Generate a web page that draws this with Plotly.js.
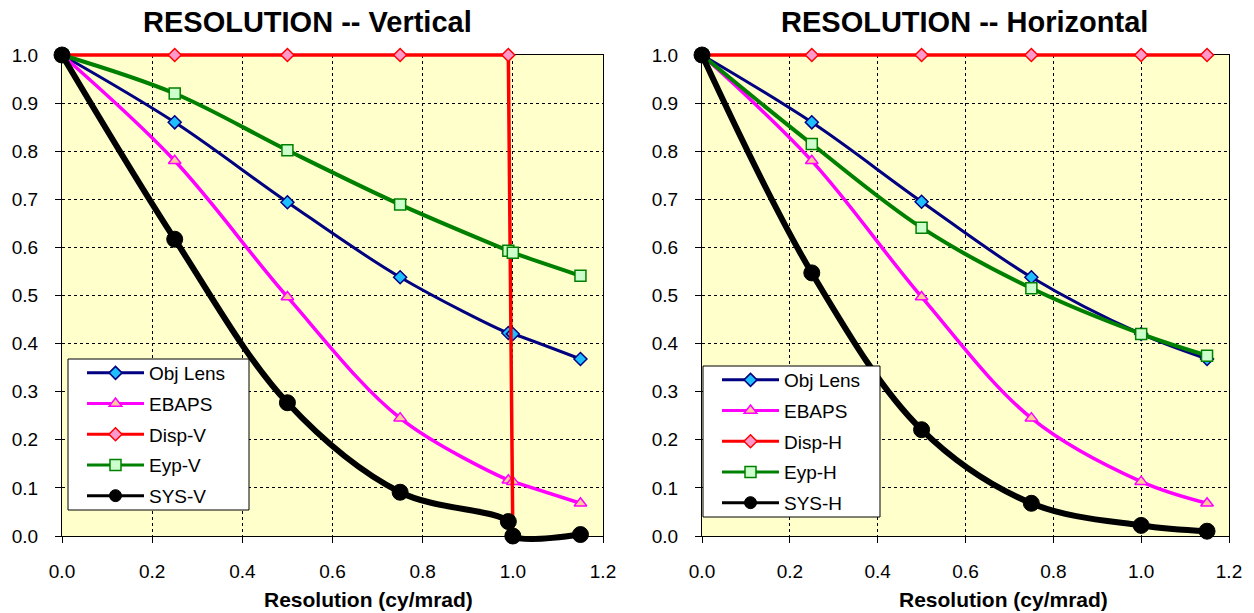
<!DOCTYPE html>
<html>
<head>
<meta charset="utf-8">
<script src="https://cdn.plot.ly/plotly-3.0.1.min.js"></script>
<style>html,body{margin:0;padding:0;background:#fff;}#chart{width:1254px;height:613px;}</style>
</head>
<body>
<div id="chart"></div>
<script>
// ---- Data ----
const xV = [0, 0.25, 0.5, 0.75, 0.99, 1.0, 1.15];
const objLensV = [1.0, 0.86, 0.694, 0.538, 0.422, 0.42, 0.368];
const ebapsV   = [1.0, 0.78, 0.497, 0.245, 0.116, 0.113, 0.068];
const dispV    = [1.0, 1.0, 1.0, 1.0, 1.0, 0.0, null];
const eypV     = [1.0, 0.92, 0.802, 0.689, 0.593, 0.589, 0.541];
const sysV     = [1.0, 0.617, 0.277, 0.091, 0.03, 0.0, 0.003];

const xH = [0, 0.25, 0.5, 0.75, 1.0, 1.15];
const objLensH = [1.0, 0.86, 0.695, 0.538, 0.42, 0.368];
const ebapsH   = [1.0, 0.78, 0.497, 0.245, 0.113, 0.068];
const dispH    = [1.0, 1.0, 1.0, 1.0, 1.0, 1.0];
const eypH     = [1.0, 0.815, 0.641, 0.515, 0.42, 0.375];
const sysH     = [1.0, 0.547, 0.221, 0.068, 0.022, 0.01];

const namesV = ['Obj Lens', 'EBAPS', 'Disp-V', 'Eyp-V', 'SYS-V'];
const namesH = ['Obj Lens', 'EBAPS', 'Disp-H', 'Eyp-H', 'SYS-H'];
const titles = ['RESOLUTION -- Vertical', 'RESOLUTION -- Horizontal'];
const xTitle = 'Resolution (cy/mrad)';
const xRange = [0, 1.2];
const yRange = [0, 1];

// ---- Styles ----
const styles = [
  {line: {color: '#000080', width: 3, shape: 'spline'}, marker: {symbol: 'diamond', size: 10, color: '#1EBFFF', line: {color: '#000080', width: 1.5}}, legLine: 3, legSize: 10},
  {line: {color: '#FF00FF', width: 3.5, shape: 'spline'}, marker: {symbol: 'triangle-up', size: 11, color: '#FFCC99', line: {color: '#FF00FF', width: 1.5}}, legLine: 3, legSize: 11},
  {line: {color: '#FF0000', width: 3.5, shape: 'linear'}, marker: {symbol: 'diamond', size: 10, color: '#FF99CC', line: {color: '#FF0000', width: 1.5}}, legLine: 3, legSize: 10},
  {line: {color: '#008000', width: 4, shape: 'spline'}, marker: {symbol: 'square', size: 11, color: '#CCFFCC', line: {color: '#008000', width: 1.5}}, legLine: 3, legSize: 11},
  {line: {color: '#000000', width: 6, shape: 'spline'}, marker: {symbol: 'circle', size: 16, color: '#000000', line: {color: '#000000', width: 1}}, legLine: 3, legSize: 12}
];

const font = 'Arial, "Liberation Sans", sans-serif';
const seriesV = [objLensV, ebapsV, dispV, eypV, sysV];
const seriesH = [objLensH, ebapsH, dispH, eypH, sysH];

const W = 1254, H = 613;
// plot frames in pixels
const frames = [
  {l: 62, r: 603, t: 55, b: 536},
  {l: 702, r: 1229, t: 55, b: 536}
];
const PAD = 9; // unclipped margin for data lines

const traces = [];
function addSet(xs, series, names, xa, ya, legxa, legya, leg) {
  series.forEach((ys, i) => {
    const s = styles[i];
    traces.push({
      type: 'scatter', mode: 'lines+markers', x: xs, y: ys, name: names[i],
      xaxis: xa, yaxis: ya, showlegend: false,
      line: s.line, marker: s.marker, cliponaxis: false
    });
  });
  // legend entries (thin legend lines, as in the original)
  series.forEach((ys, i) => {
    const s = styles[i];
    traces.push({
      type: 'scatter', mode: 'lines+markers', x: [null], y: [null], name: names[i],
      xaxis: legxa, yaxis: legya, legend: leg, legendgroup: leg + i, showlegend: true,
      line: {color: s.line.color, width: s.legLine},
      marker: Object.assign({}, s.marker, {size: s.legSize})
    });
  });
}
addSet(xV, seriesV, namesV, 'x3', 'y3', 'x', 'y', 'legend');
addSet(xH, seriesH, namesH, 'x4', 'y4', 'x2', 'y2', 'legend2');

function frameAxisX(f, anchor) {
  return {
    domain: [f.l / W, f.r / W], anchor: anchor, range: xRange, dtick: 0.2, tick0: 0, tickformat: '.1f',
    showgrid: true, gridcolor: '#000', griddash: 'dot', gridwidth: 1,
    showline: true, linecolor: '#000', linewidth: 1, mirror: true, zeroline: false,
    ticks: 'outside', ticklen: 6, tickcolor: '#000', ticklabelstandoff: 12,
    tickfont: {family: font, size: 19, color: '#000'}, fixedrange: true
  };
}
function frameAxisY(f, anchor) {
  return {
    domain: [1 - f.b / H, 1 - f.t / H], anchor: anchor, range: yRange, dtick: 0.1, tick0: 0, tickformat: '.1f',
    showgrid: true, gridcolor: '#000', griddash: 'dot', gridwidth: 1,
    showline: true, linecolor: '#000', linewidth: 1, mirror: true, zeroline: false,
    ticks: 'outside', ticklen: 6, tickcolor: '#000', ticklabelstandoff: 13,
    tickfont: {family: font, size: 19, color: '#000'}, fixedrange: true
  };
}
// hidden data axes: same scale as the frame axes, slightly larger domain so lines at the edges are not clipped
function dataAxisX(f, anchor) {
  const k = (xRange[1] - xRange[0]) / (f.r - f.l);
  return {visible: false, anchor: anchor, domain: [(f.l - PAD) / W, (f.r + PAD) / W],
    range: [xRange[0] - PAD * k, xRange[1] + PAD * k], fixedrange: true};
}
function dataAxisY(f, anchor) {
  const k = (yRange[1] - yRange[0]) / (f.b - f.t);
  return {visible: false, anchor: anchor, domain: [1 - (f.b + PAD) / H, 1 - (f.t - PAD) / H],
    range: [yRange[0] - PAD * k, yRange[1] + PAD * k], fixedrange: true};
}

const legendBase = {
  bgcolor: 'rgba(0,0,0,0)', borderwidth: 0,
  font: {family: font, size: 19, color: '#000'},
  traceorder: 'grouped', tracegroupgap: 3, itemwidth: 57,
  xanchor: 'left', yanchor: 'top'
};
const legBoxes = [
  {l: 68, r: 249, t: 359, b: 510, lx: 82, ly: 354},
  {l: 703, r: 880, t: 366, b: 517, lx: 717, ly: 361}
];

const shapes = [];
['', '2'].forEach((s) => {
  shapes.push({type: 'rect', xref: 'x' + s + ' domain', yref: 'y' + s + ' domain', x0: 0, x1: 1, y0: 0, y1: 1,
    fillcolor: '#FFFFCC', line: {width: 0}, layer: 'below'});
});
legBoxes.forEach((b) => {
  shapes.push({type: 'rect', xref: 'paper', yref: 'paper', x0: b.l / W, x1: b.r / W, y0: 1 - b.b / H, y1: 1 - b.t / H,
    fillcolor: '#FFFFFF', line: {color: '#000', width: 1}, layer: 'above'});
});

const ann = (text, px, py, size) => ({text: '<b>' + text + '</b>', x: px / W, y: 1 - py / H, xref: 'paper', yref: 'paper',
  showarrow: false, xanchor: 'center', yanchor: 'middle', font: {family: font, size: size, color: '#000'}});

const layout = {
  width: W, height: H,
  margin: {l: 0, r: 0, t: 0, b: 0},
  paper_bgcolor: '#fff', plot_bgcolor: 'rgba(0,0,0,0)',
  xaxis: frameAxisX(frames[0], 'y'),
  yaxis: frameAxisY(frames[0], 'x'),
  xaxis2: frameAxisX(frames[1], 'y2'),
  yaxis2: frameAxisY(frames[1], 'x2'),
  xaxis3: dataAxisX(frames[0], 'y3'),
  yaxis3: dataAxisY(frames[0], 'x3'),
  xaxis4: dataAxisX(frames[1], 'y4'),
  yaxis4: dataAxisY(frames[1], 'x4'),
  legend: Object.assign({x: legBoxes[0].lx / W, y: 1 - legBoxes[0].ly / H}, legendBase),
  legend2: Object.assign({x: legBoxes[1].lx / W, y: 1 - legBoxes[1].ly / H}, legendBase),
  shapes: shapes,
  annotations: [
    ann(titles[0], 307, 22, 29),
    ann(titles[1], 964, 22, 29),
    ann(xTitle, 368, 599, 21),
    ann(xTitle, 1003, 599, 21)
  ],
  showlegend: true
};

Plotly.newPlot('chart', traces, layout, {displayModeBar: false, staticPlot: true});
</script>
</body>
</html>
